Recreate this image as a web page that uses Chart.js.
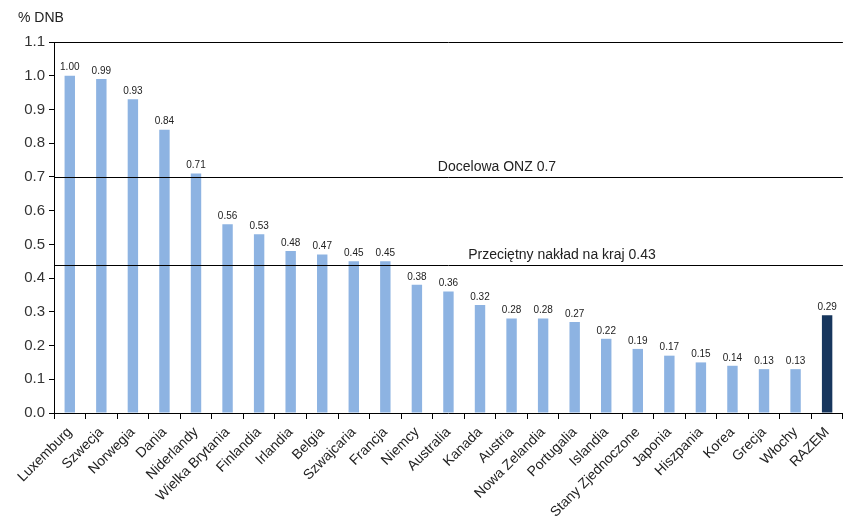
<!DOCTYPE html>
<html>
<head>
<meta charset="utf-8">
<script src="https://cdn.jsdelivr.net/npm/chart.js@4/dist/chart.umd.min.js"></script>
<style>
  html, body { margin: 0; padding: 0; background: #fff; }
  #wrap { width: 844px; height: 524px; }
</style>
</head>
<body>
<div id="wrap"><canvas id="odaChart" width="844" height="524"></canvas></div>
<script>
const countries = ["Luxemburg", "Szwecja", "Norwegia", "Dania", "Niderlandy", "Wielka Brytania",
  "Finlandia", "Irlandia", "Belgia", "Szwajcaria", "Francja", "Niemcy", "Australia", "Kanada",
  "Austria", "Nowa Zelandia", "Portugalia", "Islandia", "Stany Zjednoczone", "Japonia",
  "Hiszpania", "Korea", "Grecja", "Włochy", "RAZEM"];
const gniShare = [1.00, 0.99, 0.93, 0.84, 0.71, 0.56, 0.53, 0.48, 0.47, 0.45, 0.45, 0.38, 0.36,
  0.32, 0.28, 0.28, 0.27, 0.22, 0.19, 0.17, 0.15, 0.14, 0.13, 0.13, 0.29];
const yTicks = [0.0, 0.1, 0.2, 0.3, 0.4, 0.5, 0.6, 0.7, 0.8, 0.9, 1.0, 1.1];
// linie odniesienia: wartość na osi, podpis
const refLines = [
  { value: 1.1, text: "" },
  { value: 0.7, text: "Docelowa ONZ 0.7", x: 497 },
  { value: 0.44, text: "Przeciętny nakład na kraj 0.43", x: 562 }
];

const barColors = countries.map(c => c === "RAZEM" ? "#17365d" : "#8db3e2");
const FONT = "'Liberation Sans', Arial, sans-serif";

const overlay = {
  id: "overlay",
  afterDatasetsDraw(chart) {
    const { ctx, chartArea, scales } = chart;
    ctx.save();
    // linie poziome
    ctx.strokeStyle = "#000";
    ctx.lineWidth = 1;
    refLines.forEach(r => {
      const y = Math.round(scales.y.getPixelForValue(r.value)) + 0.5;
      ctx.beginPath();
      ctx.moveTo(chartArea.left, y);
      ctx.lineTo(chartArea.right, y);
      ctx.stroke();
      if (r.text) {
        ctx.fillStyle = "#222";
        ctx.font = "14px " + FONT;
        ctx.textAlign = "center";
        ctx.textBaseline = "bottom";
        ctx.fillText(r.text, r.x, y - 3);
      }
    });
    // wartości nad słupkami
    const meta = chart.getDatasetMeta(0);
    ctx.fillStyle = "#222";
    ctx.font = "10px " + FONT;
    ctx.textAlign = "center";
    ctx.textBaseline = "bottom";
    meta.data.forEach((bar, i) => {
      ctx.fillText(gniShare[i].toFixed(2), bar.x, bar.y - 3);
    });
    // tytuł osi
    ctx.font = "14px " + FONT;
    ctx.textAlign = "left";
    ctx.textBaseline = "middle";
    ctx.fillText("% DNB", 18, 18);
    ctx.restore();
  }
};

new Chart(document.getElementById("odaChart"), {
  type: "bar",
  data: {
    labels: countries,
    datasets: [{
      data: gniShare,
      backgroundColor: barColors,
      categoryPercentage: 1.0,
      barPercentage: 0.33
    }]
  },
  options: {
    responsive: false,
    animation: false,
    layout: { padding: { top: 42, right: 0, left: 0, bottom: 0 } },
    plugins: { legend: { display: false }, tooltip: { enabled: false } },
    scales: {
      x: {
        grid: { display: true, drawOnChartArea: false, drawTicks: true, tickLength: 6, color: "#000" },
        border: { display: true, color: "#000" },
        ticks: {
          autoSkip: false, maxRotation: 45, minRotation: 45, color: "#222",
          font: { size: 14, family: FONT }, padding: 5
        },
        afterFit: s => { s.height = 111; }
      },
      y: {
        min: 0, max: 1.1,
        afterBuildTicks: s => { s.ticks = yTicks.map(v => ({ value: v })); },
        grid: { display: true, drawOnChartArea: false, drawTicks: true, tickLength: 5, color: "#000" },
        border: { display: true, color: "#000" },
        ticks: {
          color: "#333", font: { size: 15, family: FONT }, padding: 4,
          callback: v => v.toFixed(1)
        },
        afterFit: s => { s.width = 54; }
      }
    }
  },
  plugins: [overlay]
});
</script>
</body>
</html>
